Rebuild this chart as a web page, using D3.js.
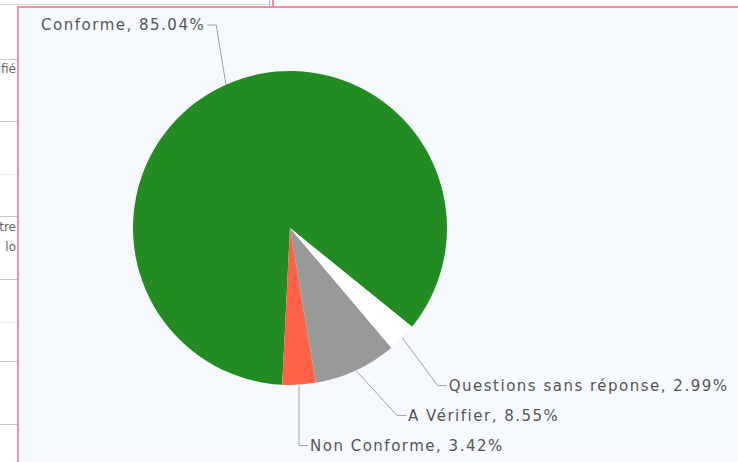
<!DOCTYPE html>
<html>
<head>
<meta charset="utf-8">
<script src="https://cdn.jsdelivr.net/npm/d3@7"></script>
<style>
  html, body { margin: 0; padding: 0; background: #fff; }
  #page { position: relative; width: 738px; height: 462px; overflow: hidden; font-family: "DejaVu Sans", Verdana, sans-serif; }
  .row-line { position: absolute; left: 0; width: 17px; height: 1px; background: #c8c8c8; }
  .row-line.light { background: #ececec; }
  .frag { position: absolute; font-size: 12px; color: #666; white-space: nowrap; }
  #panel { position: absolute; left: 17px; top: 6px; width: 760px; height: 480px;
           border-left: 2px solid #ff8aa8; border-top: 2px solid #ff8aa8; background: #f6fafe; }
  #chart { position: absolute; left: 0; top: 0; }
  .lbl { font-family: "DejaVu Sans", Verdana, sans-serif; font-size: 15px; letter-spacing: 1.5px; fill: #555; }
</style>
</head>
<body>
<div id="page">
  <!-- bits of the surrounding page -->
  <div style="position:absolute;left:0;top:4px;width:270px;height:1px;background:#d0d0d0"></div>
  <div style="position:absolute;left:269px;top:0;width:1px;height:7px;background:#9cc3e6"></div>
  <div style="position:absolute;left:272px;top:0;width:2px;height:7px;background:#ff8aa8"></div>
  <div class="row-line" style="top:59px"></div>
  <div class="frag" style="right:722px;top:62px">Vérifié</div>
  <div class="row-line" style="top:121px"></div>
  <div class="row-line light" style="top:174px"></div>
  <div class="row-line" style="top:216px"></div>
  <div class="frag" style="right:722px;top:220px">Autre</div>
  <div class="frag" style="right:722px;top:240px">lo</div>
  <div class="row-line" style="top:279px"></div>
  <div class="row-line light" style="top:322px"></div>
  <div class="row-line" style="top:361px"></div>
  <div class="row-line" style="top:424px"></div>
  <div id="panel"></div>
  <div id="chart"></div>
</div>
<script>
var categories = ['Conforme', 'Non Conforme', 'A Vérifier', 'Questions sans réponse'];
var values     = [85.04, 3.42, 8.55, 2.99];
var colors     = ['#228b22', '#ff6347', '#999999', '#ffffff'];

var W = 738, H = 462;
var cx = 290, cy = 228, r = 157;
var labelR = 216, labelGap = 30, mergeGap = 42, labelTop = 25;

var data = categories.map(function (c, i) {
  return { name: c, value: values[i], color: colors[i] };
});

var svg = d3.select('#chart').append('svg')
  .attr('width', W).attr('height', H);

var g = svg.append('g').attr('transform', 'translate(' + cx + ',' + cy + ')');

/* slices run counter-clockwise from the start angle */
var a0 = 129 * Math.PI / 180;
var pie = d3.pie().sort(null).value(function (d) { return d.value; })
  .startAngle(a0).endAngle(a0 - 2 * Math.PI);
var arcs = pie(data);
var arc = d3.arc().innerRadius(0).outerRadius(r);

g.selectAll('path.slice')
  .data(arcs)
  .join('path')
  .attr('class', 'slice')
  .attr('d', arc)
  .attr('fill', function (d) { return d.data.color; });

/* label layout: start on a circle, spread crowded ones, keep them on the circle */
var labels = arcs.map(function (d) {
  var mid = (d.startAngle + d.endAngle) / 2;
  var s = Math.sin(mid), c = Math.cos(mid);
  return {
    d: d, side: s >= 0 ? 1 : -1,
    px: r * s, py: -r * c,
    y0: -labelR * c, y: -labelR * c
  };
});

[1, -1].forEach(function (side) {
  var list = labels.filter(function (l) { return l.side === side; })
    .sort(function (a, b) { return a.y - b.y; });
  var groups = list.map(function (l) { return [l]; });
  function place(gr) {
    var mean = d3.mean(gr, function (l) { return l.y0; });
    gr.forEach(function (l, i) { l.y = mean + (i - (gr.length - 1) / 2) * labelGap; });
  }
  var merged = true;
  while (merged) {
    merged = false;
    for (var i = 0; i < groups.length - 1; i++) {
      var a = groups[i], b = groups[i + 1];
      if (b[0].y - a[a.length - 1].y < mergeGap) {
        groups.splice(i, 2, a.concat(b));
        place(groups[i]);
        merged = true;
        break;
      }
    }
  }
});

labels.forEach(function (l) {
  /* labels close to the top edge sit on the top row */
  if (l.y + cy < labelTop + 10) l.y = labelTop - cy;
  var dx = Math.sqrt(Math.max(0, labelR * labelR - l.y * l.y));
  l.x = l.side * Math.max(dx, Math.abs(l.px));
});

g.selectAll('polyline.leader')
  .data(labels)
  .join('polyline')
  .attr('class', 'leader')
  .attr('fill', 'none')
  .attr('stroke', '#a0a0a0')
  .attr('stroke-width', 1)
  .attr('points', function (l) {
    return [[l.px, l.py], [l.x, l.y], [l.x + l.side * 9, l.y]].join(' ');
  });

g.selectAll('text.lbl')
  .data(labels)
  .join('text')
  .attr('class', 'lbl')
  .attr('x', function (l) { return l.x + l.side * 11; })
  .attr('y', function (l) { return l.y; })
  .attr('dy', '0.36em')
  .attr('text-anchor', function (l) { return l.side > 0 ? 'start' : 'end'; })
  .text(function (l) { return l.d.data.name + ', ' + d3.format('.2f')(l.d.data.value) + '%'; });
</script>
</body>
</html>
